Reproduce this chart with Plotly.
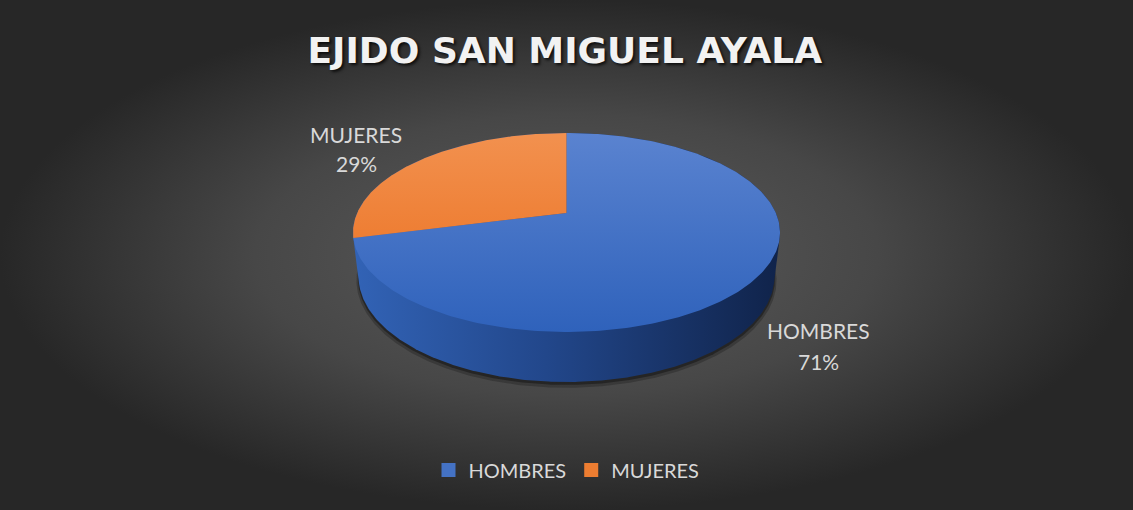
import numpy as np
import plotly.graph_objects as go

# ---------------- data ----------------
categories = ["HOMBRES", "MUJERES"]
values = [71, 29]
title_text = "EJIDO SAN MIGUEL AYALA"

# ---------------- style ----------------
top_gradients = [["#5a83d0", "#2f62bb"], ["#f2914f", "#ea6c1a"]]
legend_colors = ["#4472c4", "#ed7d31"]
side_scale = [[0, "#3263b6"], [0.45, "#22478b"], [1, "#10234a"]]
W, H = 1133, 510
BOX_L, BOX_R, BOX_T, BOX_B = 353, 780, 133, 332   # top-face bounding box (px)
DEPTH_PX = 50
ELEV = np.radians(28)
CAM = 4.5
label_font = dict(family="Lato", size=21, color="#d9d9d9")
legend_font = dict(family="Lato", size=20, color="#d9d9d9")


def project(u, w, h):
    Y = w * np.sin(ELEV) + h * np.cos(ELEV)
    Z = w * np.cos(ELEV) - h * np.sin(ELEV)
    s = CAM / (CAM + Z)
    return u * s, Y * s


# fit the projection onto the pixel box
phi_all = np.linspace(0, 2 * np.pi, 721)
X0, Y0 = project(np.sin(phi_all), np.cos(phi_all), 0.0)
xmin, xmax, ymin, ymax = X0.min(), X0.max(), Y0.min(), Y0.max()


def to_px(X, Y):
    xp = BOX_L + (X - xmin) / (xmax - xmin) * (BOX_R - BOX_L)
    yp = BOX_T + (ymax - Y) / (ymax - ymin) * (BOX_B - BOX_T)
    return xp, yp


def face(phi, h, r=1.0):
    return to_px(*project(r * np.sin(phi), r * np.cos(phi), h))


# cylinder height giving the wanted front depth
lo, hi = 0.0, 2.0
for _ in range(60):
    mid = (lo + hi) / 2
    _, yt = face(np.array([np.pi]), 0.0)
    _, yb = face(np.array([np.pi]), -mid)
    if (yb - yt)[0] < DEPTH_PX:
        lo = mid
    else:
        hi = mid
HCYL = (lo + hi) / 2


def hull(xs, ys):
    pts = sorted(set(zip(np.round(xs, 3), np.round(ys, 3))))

    def cross(o, a, b):
        return (a[0] - o[0]) * (b[1] - o[1]) - (a[1] - o[1]) * (b[0] - o[0])

    lower, upper = [], []
    for p in pts:
        while len(lower) >= 2 and cross(lower[-2], lower[-1], p) <= 0:
            lower.pop()
        lower.append(p)
    for p in reversed(pts):
        while len(upper) >= 2 and cross(upper[-2], upper[-1], p) <= 0:
            upper.pop()
        upper.append(p)
    poly = lower[:-1] + upper[:-1]
    poly.append(poly[0])
    return [p[0] for p in poly], [p[1] for p in poly]


fig = go.Figure()

# background radial gradient
fig.add_trace(go.Scatter(
    x=[0, W, W, 0, 0], y=[0, 0, H, H, 0], mode="lines", fill="toself",
    line=dict(width=0), hoverinfo="skip", showlegend=False,
    fillgradient=dict(type="radial",
                      colorscale=[[0, "#5c5c5c"], [0.55, "#474747"], [1, "#272727"]]),
))

# soft shadow under the pie
for r, dh, col in [(1.012, 0.02, "rgba(0,0,0,0.22)"), (1.004, 0.012, "rgba(0,0,0,0.35)")]:
    sx, sy = face(phi_all, -HCYL - dh, r)
    fig.add_trace(go.Scatter(x=sx, y=sy, mode="lines", fill="toself",
                             fillcolor=col, line=dict(width=0),
                             hoverinfo="skip", showlegend=False))

# side of the cylinder (hull of top and bottom faces)
tx, ty = face(phi_all, 0.0)
bx, by = face(phi_all, -HCYL)
hx, hy = hull(np.concatenate([tx, bx]), np.concatenate([ty, by]))
fig.add_trace(go.Scatter(
    x=hx, y=hy, mode="lines", fill="toself", line=dict(width=0),
    hoverinfo="skip", showlegend=False,
    fillgradient=dict(type="horizontal", colorscale=side_scale,
                      start=BOX_L, stop=BOX_R),
))

# top-face slices
total = sum(values)
cum = np.cumsum([0] + values) / total * 2 * np.pi
cx, cy = face(np.array([0.0]), 0.0, 0.0)
for i, cat in enumerate(categories):
    phi = np.linspace(cum[i], cum[i + 1], 300)
    px, py = face(phi, 0.0)
    xs = np.concatenate([[cx[0]], px, [cx[0]]])
    ys = np.concatenate([[cy[0]], py, [cy[0]]])
    fig.add_trace(go.Scatter(
        x=xs, y=ys, mode="lines", fill="toself", line=dict(width=0),
        name=cat, showlegend=False, hoverinfo="name",
        fillgradient=dict(type="vertical",
                          colorscale=[[0, top_gradients[i][0]], [1, top_gradients[i][1]]],
                          start=BOX_T, stop=BOX_B),
    ))

# legend entries
for i, cat in enumerate(categories):
    fig.add_trace(go.Scatter(x=[None], y=[None], mode="markers", name=cat,
                             marker=dict(symbol="square", size=14, color=legend_colors[i])))

# data labels
pcts = [round(100 * v / total) for v in values]
label_pos = {"HOMBRES": (818, 330, 361), "MUJERES": (356, 134, 163)}
for cat, p in zip(categories, pcts):
    lx, ly1, ly2 = label_pos[cat]
    fig.add_annotation(x=lx, y=ly1, text=cat, showarrow=False, font=label_font,
                       xanchor="center", yanchor="middle")
    fig.add_annotation(x=lx, y=ly2, text=f"{p}%", showarrow=False, font=label_font,
                       xanchor="center", yanchor="middle")

fig.update_layout(
    width=W, height=H,
    margin=dict(l=0, r=0, t=0, b=0),
    paper_bgcolor="#252525", plot_bgcolor="rgba(0,0,0,0)",
    xaxis=dict(range=[0, W], visible=False, fixedrange=True),
    yaxis=dict(range=[H, 0], visible=False, fixedrange=True),
    title=dict(text=title_text, x=0.4985, xanchor="center",
               y=1 - 50 / H, yanchor="middle", yref="container",
               font=dict(family="DejaVu Sans", size=36, color="#f2f2f2",
                         weight="bold", shadow="2px 2px 3px rgba(0,0,0,0.75)")),
    legend=dict(orientation="h", x=0.5, xanchor="center", y=1 - 470 / H,
                yanchor="middle", font=legend_font, bgcolor="rgba(0,0,0,0)",
                itemclick=False, itemdoubleclick=False),
    showlegend=True,
)

fig.write_html(
    "out.html",
    config={"displayModeBar": False},
    post_script="document.body.style.margin='0';document.body.style.overflow='hidden';",
)
